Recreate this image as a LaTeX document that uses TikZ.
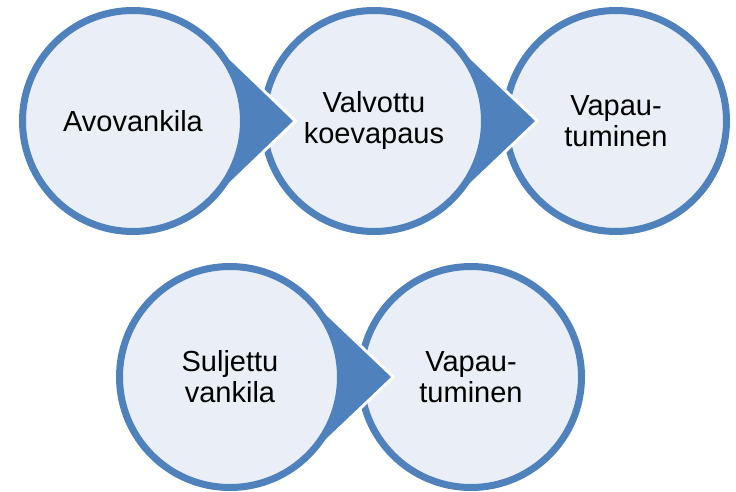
\documentclass[tikz,border=0pt]{standalone}
\usepackage{fontspec}
\setmainfont{Liberation Sans}
\definecolor{accblue}{HTML}{4F81BD}
\definecolor{lightfill}{HTML}{EAEFF7}
\begin{document}
\begin{tikzpicture}[x=1pt,y=-1pt,
  circ/.style={circle,draw=accblue,fill=lightfill,line width=7pt,minimum size=221pt,inner sep=0pt,align=center,font=\fontsize{29}{31}\selectfont},
  tipshape/.style={fill=accblue,preaction={draw=white,line width=6pt,line join=miter}}]
\useasboundingbox (0,0) rectangle (736,492);
\coordinate (p1) at (133,121);
\coordinate (p2) at (374,121);
\coordinate (p3) at (616,121);
\coordinate (p4) at (230,377);
\coordinate (p5) at (471,377);
% top row
\node[circ] (c3) at (p3) {Vapau-\\tuminen};
\path[tipshape] (p2) -- ++(77,-79.9) -- ++(84,79.9) -- ++(-84,79.9) -- cycle;
\node[circ] (c2) at (p2) {Valvottu\\koevapaus};
\path[tipshape] (p1) -- ++(77,-79.9) -- ++(83,79.9) -- ++(-83,79.9) -- cycle;
\node[circ] (c1) at (p1) {Avovankila};
% bottom row
\node[circ] (c5) at (p5) {Vapau-\\tuminen};
\path[tipshape] (p4) -- ++(77,-79.9) -- ++(84,79.9) -- ++(-84,79.9) -- cycle;
\node[circ] (c4) at (p4) {Suljettu\\vankila};
\end{tikzpicture}
\end{document}
